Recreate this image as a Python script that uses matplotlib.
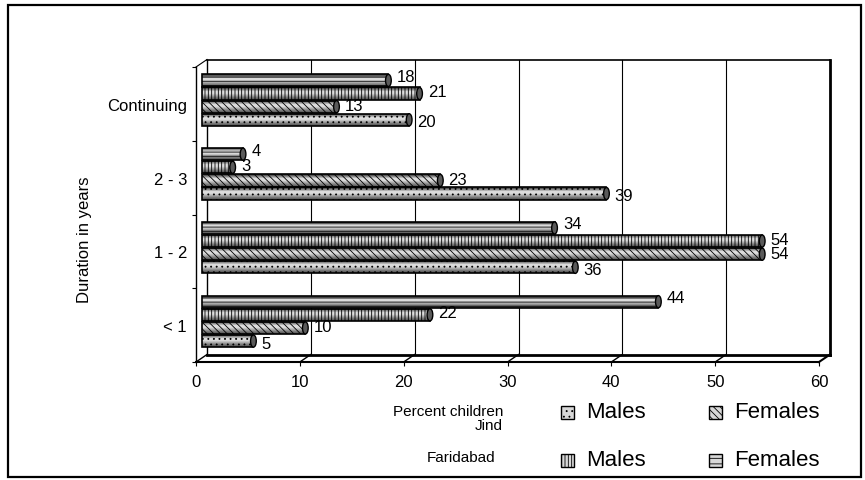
import numpy as np
import matplotlib
matplotlib.use("Agg")
import matplotlib.pyplot as plt
from matplotlib.patches import Rectangle, Ellipse

plt.rcParams['font.family'] = ['Liberation Sans', 'DejaVu Sans']
plt.rcParams['hatch.linewidth'] = 0.6

# data (bottom category first)
categories = ["< 1", "1 - 2", "2 - 3", "Continuing"]
jind_males = [5, 36, 39, 20]
jind_females = [10, 54, 23, 13]
farid_males = [22, 54, 3, 21]
farid_females = [44, 34, 4, 18]

x_ticks = [0, 10, 20, 30, 40, 50, 60]

W, H = 865, 481
fig = plt.figure(figsize=(W / 100, H / 100), dpi=100)

# front plane of the fake 3d box, in pixels
L, R, T, B = 196, 819, 68, 363
ax = fig.add_axes([L / W, 1 - B / H, (R - L) / W, (B - T) / H])
ax.set_xlim(0, 60)
ax.set_ylim(-0.5, 3.5)
for s in ax.spines.values():
    s.set_visible(False)

# depth offset of the back wall in data units
DX = 11 / ((R - L) / 60)
DY = 7.5 / ((B - T) / 4)
PY = 4 / (B - T)  # one pixel in y data units

# back wall + grid
for v in x_ticks[1:-1]:
    ax.plot([v + DX, v + DX], [-0.5 + DY, 3.5 + DY], color='black', lw=0.8, clip_on=False, zorder=1)
ax.plot([DX, 60 + DX], [3.5 + DY, 3.5 + DY], color='black', lw=1.2, clip_on=False, zorder=1)
ax.plot([DX, DX], [-0.5 + DY, 3.5 + DY], color='black', lw=1.0, clip_on=False, zorder=1)
ax.plot([60 + DX, 60 + DX], [-0.5 + DY, 3.5 + DY], color='black', lw=2.0, clip_on=False, zorder=1)
ax.plot([DX, 60 + DX], [-0.5 + DY, -0.5 + DY], color='black', lw=2.0, clip_on=False, zorder=1)
# floor + left wall
ax.plot([0, 60], [-0.5, -0.5], color='black', lw=1.5, clip_on=False, zorder=1)
ax.plot([0, 0], [-0.5, 3.5], color='black', lw=1.0, clip_on=False, zorder=1)
ax.plot([0, DX], [3.5, 3.5 + DY], color='black', lw=0.8, clip_on=False, zorder=1)
for v in x_ticks:
    ax.plot([v, v + DX], [-0.5, -0.5 + DY], color='black', lw=1.0 if v < 60 else 1.5, clip_on=False, zorder=1)

# bars (cylinder look: grey gradient under the hatch)
grad = np.array([0.25, 0.6, 0.88, 0.85, 0.68, 0.5, 0.35])[:, None]
series = [
    (jind_males, '...', -1.5, 2),
    (jind_females, '\\\\\\\\\\', -0.5, -1),
    (farid_males, '|||||', 0.5, -2),
    (farid_females, '----', 1.5, -4),
]
step = 0.178
h = 0.165
y = np.arange(len(categories))
for vals, hatch, k, lab_dy in series:
    yy = y + k * step + DY / 2
    bars = ax.barh(yy, vals, height=h, left=DX / 2, facecolor='none', edgecolor='black',
                   hatch=hatch, lw=1.2, zorder=4)
    for p, v, yc in zip(bars.patches, vals, yy):
        img = ax.imshow(grad, extent=(DX / 2, DX / 2 + v, yc - h / 2, yc + h / 2), cmap='gray',
                        vmin=0, vmax=1, aspect='auto', zorder=3, interpolation='bilinear')
        img.set_clip_path(p)
        ax.add_patch(Ellipse((DX / 2 + v, yc), 0.55, h, facecolor='#5a5a5a', edgecolor='black',
                             lw=1.0, zorder=5))
        ax.text(DX / 2 + v + 0.8, yc - lab_dy * PY, str(v), va='center', ha='left', fontsize=12, zorder=6)

ax.set_xlim(0, 60)
ax.set_ylim(-0.5, 3.5)

ax.set_xticks(x_ticks)
ax.set_xticklabels([str(v) for v in x_ticks])
ax.tick_params(axis='x', length=3, width=0.8, pad=6, labelsize=12)
ax.set_yticks(np.arange(-0.5, 4, 1))
ax.set_yticklabels([])
ax.tick_params(axis='y', which='major', length=3, width=0.8)
ax.set_yticks(y, minor=True)
ax.set_yticklabels(categories, minor=True)
ax.tick_params(axis='y', which='minor', length=0, pad=6.5, labelsize=12)

fig.text(85 / W, 1 - 240 / H, "Duration in years", rotation=90, ha='center', va='center', fontsize=12)

# legend, laid out by hand like the original
def px(x, yv):
    return x / W, 1 - yv / H

fig.text(*px(503, 412), "Percent children", ha='right', va='center', fontsize=11)
fig.text(*px(503, 426), "Jind", ha='right', va='center', fontsize=11)
fig.text(*px(495, 458), "Faridabad", ha='right', va='center', fontsize=11)
entries = [
    (567, 413, '...', 'Males'),
    (715, 413, '\\\\\\\\\\', 'Females'),
    (567, 461, '|||||', 'Males'),
    (715, 461, '---', 'Females'),
]
sz = 13
for cx, cy, hatch, lab in entries:
    x0, y0 = px(cx - sz / 2, cy + sz / 2)
    fig.patches.append(Rectangle((x0, y0), sz / W, sz / H, transform=fig.transFigure,
                                 facecolor='#d8d8d8', edgecolor='black', hatch=hatch, lw=1.0))
    fig.text(*px(cx + 19, cy), lab, ha='left', va='center', fontsize=16)

# outer border
fig.patches.append(Rectangle((8 / W, 1 - 478 / H), 853 / W, 472 / H, transform=fig.transFigure,
                             facecolor='none', edgecolor='black', lw=1.6))

fig.savefig("out.png", dpi=100)
